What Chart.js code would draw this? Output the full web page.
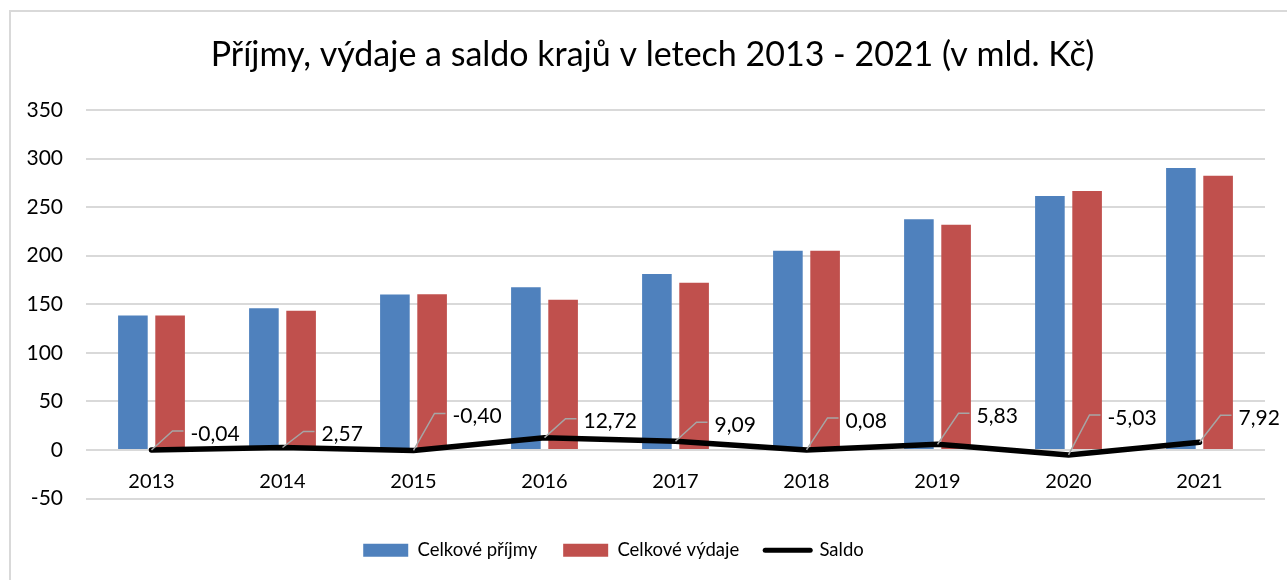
<!DOCTYPE html>
<html>
<head>
<meta charset="utf-8">
<script src="https://cdn.jsdelivr.net/npm/chart.js@4"></script>
<style>
  html, body { margin: 0; padding: 0; background: #fff; }
  #wrap { width: 1287px; height: 580px; position: relative; }
</style>
</head>
<body>
<div id="wrap"><canvas id="chart" width="1287" height="580"></canvas></div>
<script>
// data
const years = ['2013', '2014', '2015', '2016', '2017', '2018', '2019', '2020', '2021'];
const prijmy = [138.4, 146.0, 160.0, 167.5, 181.3, 205.2, 237.6, 261.5, 290.2];
const vydaje = [138.4, 143.4, 160.4, 154.8, 172.2, 205.1, 231.8, 266.5, 282.3];
const saldo = [-0.04, 2.57, -0.40, 12.72, 9.09, 0.08, 5.83, -5.03, 7.92];
const yTicks = [-50, 0, 50, 100, 150, 200, 250, 300, 350];

// how far each saldo label sits above its point (px)
const labelLift = [19, 16, 37, 19, 19, 32, 31, 40, 27];

const FONT = 'Lato';
const BLUE = '#4F81BD';
const RED = '#C0504D';
const GRID = '#d9d9d9';

const fmt = v => v.toFixed(2).replace('.', ',');

// outer frame of the chart (top + left edges visible)
const framePlugin = {
    id: 'frame',
    beforeDraw(chart) {
        const ctx = chart.ctx;
        ctx.save();
        ctx.strokeStyle = GRID;
        ctx.lineWidth = 2;
        ctx.beginPath();
        ctx.moveTo(10, 580);
        ctx.lineTo(10, 11);
        ctx.lineTo(1287, 11);
        ctx.stroke();
        ctx.restore();
    }
};

// nudge title right and legend left, like the original
const blockShift = {
    id: 'blockShift',
    afterLayout(chart) {
        chart.titleBlock.left += 14;
        chart.titleBlock.right += 14;
        chart.legend.left -= 25;
        chart.legend.right -= 25;
    }
};

// saldo data labels with leader lines
const saldoLabels = {
    id: 'saldoLabels',
    afterDatasetsDraw(chart) {
        const meta = chart.getDatasetMeta(2);
        const ctx = chart.ctx;
        ctx.save();
        meta.data.forEach((pt, i) => {
            const x = pt.x, y = pt.y;
            const ey = y - labelLift[i];
            ctx.strokeStyle = '#a6a6a6';
            ctx.lineWidth = 1.5;
            ctx.beginPath();
            ctx.moveTo(x, y);
            ctx.lineTo(x + 21, ey);
            ctx.lineTo(x + 32, ey);
            ctx.stroke();
            ctx.fillStyle = '#000';
            ctx.font = '21px ' + FONT;
            ctx.textAlign = 'left';
            ctx.textBaseline = 'middle';
            ctx.fillText(fmt(saldo[i]), x + 39, ey + 3);
        });
        ctx.restore();
    }
};

new Chart(document.getElementById('chart'), {
    data: {
        labels: years,
        datasets: [
            { type: 'bar', label: 'Celkové příjmy', data: prijmy, backgroundColor: BLUE, order: 2,
              categoryPercentage: 0.568, barPercentage: 0.796 },
            { type: 'bar', label: 'Celkové výdaje', data: vydaje, backgroundColor: RED, order: 2,
              categoryPercentage: 0.568, barPercentage: 0.796 },
            { type: 'line', label: 'Saldo', data: saldo, borderColor: '#000', backgroundColor: '#000',
              borderWidth: 5.5, pointRadius: 0, tension: 0, order: 1,
              borderCapStyle: 'round', borderJoinStyle: 'round' }
        ]
    },
    options: {
        responsive: false,
        animation: false,
        layout: { padding: { left: 12, right: 22, top: 0, bottom: 10.5 } },
        plugins: {
            title: {
                display: true,
                text: 'Příjmy, výdaje a saldo krajů v letech 2013 - 2021 (v mld. Kč)',
                color: '#000',
                font: { family: FONT, size: 34, weight: 'normal', lineHeight: 1.2 },
                padding: { top: 35, bottom: 34.2 }
            },
            legend: {
                position: 'bottom',
                title: { display: true, text: ' ', font: { size: 12, lineHeight: 1.2 }, padding: { top: 2, bottom: 0 } },
                labels: {
                    color: '#000',
                    font: { family: FONT, size: 18.5 },
                    usePointStyle: true,
                    pointStyleWidth: 45,
                    boxWidth: 45,
                    boxHeight: 13,
                    padding: 26,
                    generateLabels(chart) {
                        return chart.data.datasets.map((ds, i) => {
                            if (ds.type === 'line') {
                                return { text: ds.label, pointStyle: 'line', strokeStyle: '#000', fillStyle: '#000',
                                         lineWidth: 5, lineCap: 'round', datasetIndex: i, fontColor: '#000' };
                            }
                            return { text: ds.label, pointStyle: 'rect', fillStyle: ds.backgroundColor,
                                     strokeStyle: ds.backgroundColor, lineWidth: 0, datasetIndex: i, fontColor: '#000' };
                        });
                    }
                }
            },
            tooltip: { enabled: false }
        },
        scales: {
            x: {
                position: { y: 0 },
                grid: { display: false, drawTicks: false },
                border: { display: false },
                ticks: { color: '#000', font: { family: FONT, size: 20 }, padding: 20 }
            },
            y: {
                min: -50,
                max: 350,
                afterBuildTicks(scale) { scale.ticks = yTicks.map(v => ({ value: v })); },
                grid: { color: GRID, lineWidth: 2, drawTicks: false },
                border: { display: false },
                ticks: { color: '#000', font: { family: FONT, size: 21 }, padding: 23 },
                afterFit(scale) { scale.width = 74; }
            }
        }
    },
    plugins: [framePlugin, blockShift, saldoLabels]
});
</script>
</body>
</html>
